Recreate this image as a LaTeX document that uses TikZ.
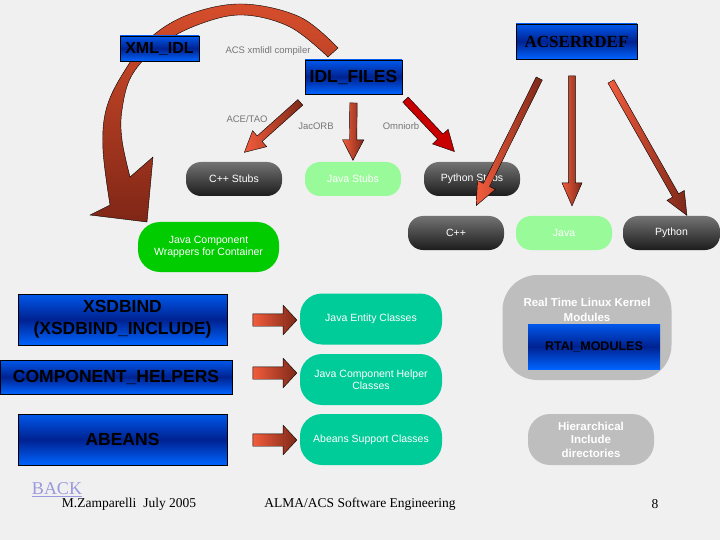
\documentclass[tikz,border=0pt]{standalone}
\usepackage{fontspec}
\setmainfont{Liberation Serif}
\setsansfont{Liberation Sans}
\usetikzlibrary{calc,shapes.arrows}
\definecolor{Bgcol}{RGB}{240,240,240}
\definecolor{Bluetop}{RGB}{0,88,235}
\definecolor{Bluemid}{RGB}{0,34,145}
\definecolor{Bluebot}{RGB}{0,100,255}
\definecolor{Stubtop}{RGB}{115,115,115}
\definecolor{Stubbot}{RGB}{28,28,28}
\definecolor{Lgreen}{RGB}{153,250,153}
\definecolor{Dgreen}{RGB}{0,204,0}
\definecolor{Teal}{RGB}{0,204,153}
\definecolor{Pgrey}{RGB}{190,190,190}
\definecolor{Lblgrey}{RGB}{118,118,118}
\definecolor{Backblue}{RGB}{153,153,221}
\definecolor{Arrtail}{RGB}{242,92,60}
\definecolor{Arrtip}{RGB}{125,40,24}
\definecolor{Omnired}{RGB}{200,0,0}
\definecolor{Curvetop}{RGB}{214,78,44}
\definecolor{Curvebot}{RGB}{128,38,22}

% fat arrow between two named points
\newcommand\fatarrow[3]{%
  \path let \p1=($(#3)-(#2)$), \n1={veclen(\x1,\y1)}, \n2={atan2(\y1,\x1)} in
    node[#1,rotate=\n2,minimum height=\n1] at ($(#2)!0.5!(#3)$) {};}

\begin{document}
\begin{tikzpicture}[x=1pt,y=-1pt,
  bluebox/.style={draw=black,line width=0.8pt,top color=Bluetop,bottom color=Bluebot,middle color=Bluemid,inner sep=0pt,text=black,align=center,font=\sffamily\bfseries\fontsize{17.5}{22}\selectfont},
  pill/.style={rounded corners=15pt,minimum width=96pt,minimum height=34pt,inner sep=0pt,text=white,align=center,font=\sffamily\fontsize{10.5}{11.5}\selectfont},
  stub/.style={pill,top color=Stubtop,bottom color=Stubbot},
  lgpill/.style={pill,fill=Lgreen},
  bigpill/.style={pill,minimum width=142pt,minimum height=51pt,rounded corners=22pt},
  greypill/.style={bigpill,fill=Pgrey,font=\sffamily\bfseries\fontsize{11.5}{13.5}\selectfont},
  lbl/.style={text=Lblgrey,inner sep=1pt,font=\sffamily\fontsize{9.5}{11}\selectfont},
  foot/.style={inner sep=0pt,font=\rmfamily\fontsize{13.5}{15}\selectfont},
  arrbase/.style={single arrow,draw=black,line width=0.4pt,inner xsep=0pt,inner ysep=3.5pt,minimum width=21pt,single arrow head extend=7pt,single arrow tip angle=55},
  thinarr/.style={arrbase,left color=Arrtail,right color=Arrtip},
  omniarr/.style={arrbase,fill=Omnired},
  acsarr/.style={thinarr,inner ysep=3.2pt,minimum width=20pt,single arrow head extend=6.5pt,single arrow tip angle=47},
  blockarr/.style={thinarr,inner ysep=6pt,minimum width=29pt,single arrow head extend=8.5pt,single arrow tip angle=94}
]
\fill[Bgcol] (0,0) rectangle (720,540);
\useasboundingbox (0,0) rectangle (720,540);

% the big curved arrow
\path[draw=black,line width=0.4pt,top color=Curvetop,bottom color=Curvebot]
  plot[smooth,tension=0.6] coordinates {(338,48) (300,17) (243,4) (190,14) (150,38) (122,75) (106,110) (103,150) (110,205)}
  -- (90,215) -- (147,222) -- (153,157) -- (130,177)
  -- plot[smooth,tension=0.6] coordinates {(130,177) (122,140) (122,110) (132,75) (160,45) (200,24) (243,15) (290,27) (328,57)}
  -- cycle;

% blue boxes
\node[bluebox,minimum width=79pt,minimum height=25pt,font=\sffamily\bfseries\fontsize{16}{18}\selectfont] (xmlidl) at (159.5,48.5) {XML\_IDL};
\node[bluebox,minimum width=97pt,minimum height=34pt] (idlfiles) at (353.5,77) {IDL\_FILES};
\node[bluebox,minimum width=121pt,minimum height=35pt,font=\rmfamily\bfseries\fontsize{17}{19}\selectfont] (acserrdef) at (576.5,41.5) {ACSERRDEF};
\node[bluebox,minimum width=209pt,minimum height=51pt] (xsdbind) at (122.5,319.5) {XSDBIND\\(XSDBIND\_INCLUDE)};
\node[bluebox,minimum width=232pt,minimum height=34pt] (comphelp) at (116,377) {COMPONENT\_HELPERS};
\node[bluebox,minimum width=209pt,minimum height=51pt] (abeans) at (122.5,439.5) {ABEANS};

% pills
\node[stub] (cppstubs) at (234,179) {C++ Stubs};
\node[lgpill] (javastubs) at (353,179) {Java Stubs};
\node[stub] (pystubs) at (472,179) {Python Stubs};
\node[stub] (cpp) at (456,233) {C++};
\node[lgpill] (java) at (564,233) {Java};
\node[stub,minimum width=97pt] (python) at (671.5,233) {Python};
\node[bigpill,minimum width=141pt,minimum height=50pt,fill=Dgreen] (wrappers) at (208.5,247) {Java Component\\Wrappers for Container};
\node[bigpill,fill=Teal] (entity) at (371,319) {Java Entity Classes};
\node[bigpill,fill=Teal] (helper) at (371,379.5) {Java Component Helper\\Classes};
\node[bigpill,fill=Teal] (support) at (371,439.5) {Abeans Support Classes};
\node[rounded corners=35pt,fill=Pgrey,minimum width=169pt,minimum height=105pt,inner sep=0pt,
  label={[anchor=north,yshift=-20pt,text=white,align=center,font=\sffamily\bfseries\fontsize{11.5}{15}\selectfont]north:Real Time Linux Kernel\\Modules}] (rtlinux) at (587,327.5) {};
\node[bluebox,draw=none,minimum width=132pt,minimum height=45pt,font=\sffamily\bfseries\fontsize{12.5}{14}\selectfont] (rtai) at (594,346.5) {RTAI\_MODULES};
\node[greypill,minimum width=126pt] (hier) at (591,439.5) {Hierarchical\\Include\\directories};

% labels
\node[lbl] (xmlcomp) at (268,51) {ACS xmlidl compiler};
\node[lbl] (acetao) at (247,119) {ACE/TAO};
\node[lbl] (jacorb) at (316,126) {JacORB};
\node[lbl] (omniorb) at (401,126) {Omniorb};

% arrows
\coordinate (ace-s) at (303,100);
\coordinate (ace-e) at (247,150);
\coordinate (jac-s) at ([yshift=-5pt]idlfiles.south);
\coordinate (jac-e) at ([yshift=5pt]javastubs.north);
\coordinate (omni-s) at (403,97);
\coordinate (omni-e) at (452,149);
\coordinate (err1-s) at (541,75);
\coordinate (err1-e) at (478,202);
\coordinate (err2-s) at (572,72);
\coordinate (err2-e) at (572,202);
\coordinate (err3-s) at (609,78);
\coordinate (err3-e) at (685,212);
\coordinate (xsd-s) at (250,320);
\coordinate (xsd-e) at (294,320);
\coordinate (help-s) at (250,373);
\coordinate (help-e) at (294,373);
\coordinate (abn-s) at (250,440);
\coordinate (abn-e) at (294,440);
\fatarrow{thinarr}{ace-s}{ace-e}
\fatarrow{thinarr}{jac-s}{jac-e}
\fatarrow{omniarr}{omni-s}{omni-e}
\fatarrow{acsarr}{err1-s}{err1-e}
\fatarrow{acsarr}{err2-s}{err2-e}
\fatarrow{acsarr}{err3-s}{err3-e}
\fatarrow{blockarr}{xsd-s}{xsd-e}
\fatarrow{blockarr}{help-s}{help-e}
\fatarrow{blockarr}{abn-s}{abn-e}

% footer
\node[foot,text=Backblue,font=\rmfamily\fontsize{18}{20}\selectfont] (back) at (57,490) {\underline{BACK}};
\node[foot] (author) at (129,504) {M.Zamparelli\ \ July 2005};
\node[foot] (title) at (360,504) {ALMA/ACS Software Engineering};
\node[foot] (page) at (655,504) {8};
\end{tikzpicture}
\end{document}
